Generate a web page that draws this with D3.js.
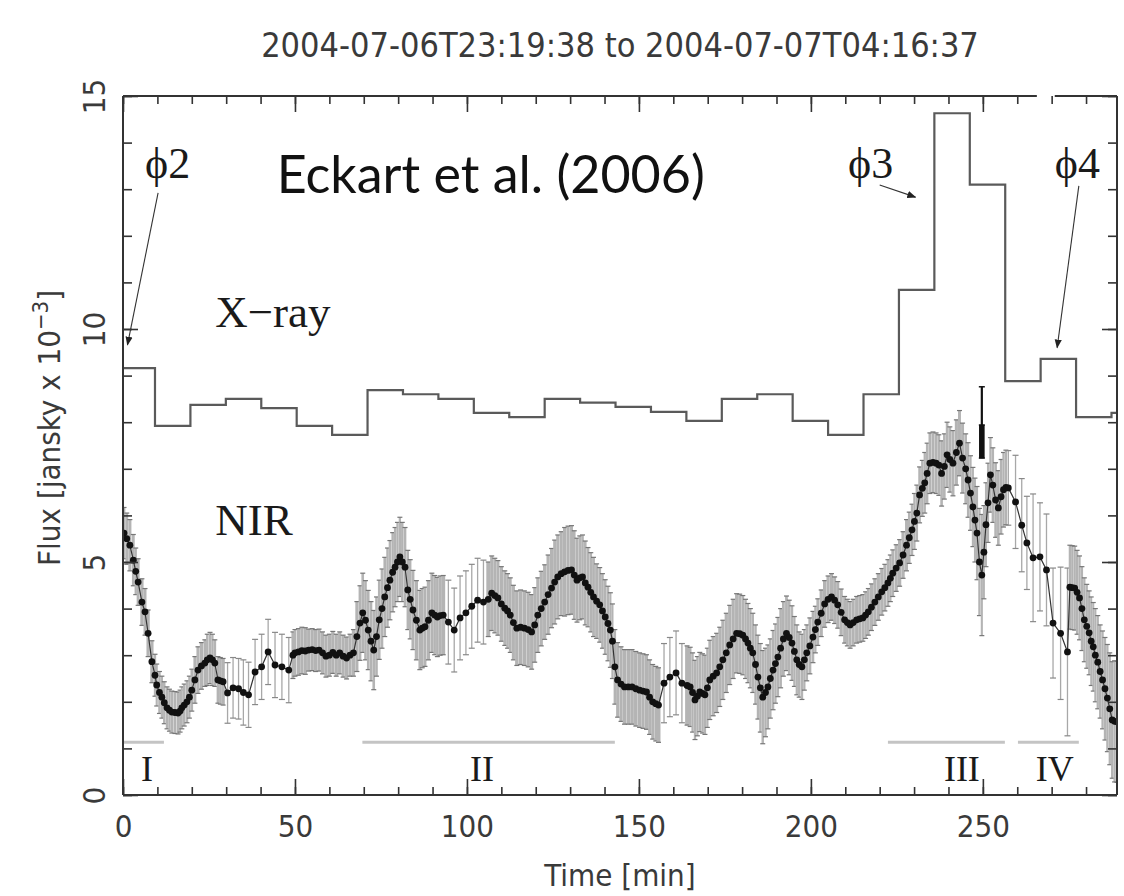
<!DOCTYPE html>
<html><head><meta charset="utf-8">
<script src="https://cdn.jsdelivr.net/npm/d3@7"></script>
<style>body{margin:0;background:#fff}svg{display:block}</style>
</head><body>
<svg id="chart" width="1124" height="896"></svg>
<script>
// ---------------- data ----------------
const titleText = "2004-07-06T23:19:38 to 2004-07-07T04:16:37";
const xLabelText = "Time [min]";
const xTicksMajor = [0, 50, 100, 150, 200, 250];
const xTicksMinor = d3.range(0, 290, 10);
const yTicksMajor = [0, 5, 10, 15];
const yTicksMinor = d3.range(0, 16, 1);

// X-ray binned light curve (bin edges in minutes, flux per bin)
const xrayEdges = [0, 9.3, 19.6, 29.9, 40.2, 50.5, 60.8, 71.1, 81.4, 91.7, 102.0, 112.3, 122.6, 132.9, 143.2,
  153.5, 163.8, 174.1, 184.4, 194.7, 205.0, 215.3, 225.6, 235.9, 246.2, 256.5, 266.8, 277.1, 287.4, 289];
const xrayFlux = [9.16, 7.92, 8.37, 8.5, 8.3, 7.92, 7.73, 8.69, 8.6, 8.5, 8.2, 8.11, 8.5, 8.42, 8.33,
  8.22, 8.03, 8.5, 8.6, 8.03, 7.73, 8.6, 10.84, 14.63, 13.1, 8.88, 9.36, 8.11, 8.2];

// NIR light curve: [time (min), flux, 1-sigma error]
const nirData = [
 [0.3,5.62,0.55],[1.1,5.5,0.55],[2.0,5.36,0.55],[3.0,5.04,0.55],[3.7,4.8,0.5],[4.4,4.57,0.5],[5.5,4.14,0.5],
 [6.4,3.93,0.5],[7.3,3.47,0.5],[8.4,2.86,0.45],[9.3,2.57,0.45],[9.8,2.36,0.45],[10.6,2.2,0.45],[11.3,2.1,0.45],
 [12.0,1.98,0.45],[12.8,1.87,0.45],[13.5,1.82,0.45],[14.2,1.78,0.45],[15.1,1.77,0.45],[16.0,1.76,0.45],
 [16.6,1.8,0.45],[17.1,1.87,0.45],[17.8,1.93,0.45],[18.6,2.0,0.45],[19.3,2.1,0.45],[20.0,2.25,0.45],
 [20.9,2.47,0.5],[21.8,2.68,0.5],[22.8,2.77,0.5],[23.8,2.83,0.5],[24.5,2.9,0.55],[25.3,2.94,0.55],
 [26.0,2.9,0.55],[26.7,2.83,0.5],[27.6,2.47,0.5],[28.3,2.45,0.5],[29.1,2.43,0.5],
 [30.4,2.19,0.65],[32.0,2.3,0.65],[33.6,2.28,0.65],[35.0,2.2,0.7],[36.5,2.15,0.7],[38.4,2.64,0.7],
 [40.3,2.75,0.7],[42.2,3.07,0.7],[44.2,2.79,0.7],[46.2,2.75,0.7],[48.2,2.68,0.7],
 [49.4,3.0,0.5],[50.0,3.05,0.5],[51.0,3.07,0.5],[52.0,3.1,0.5],[53.0,3.09,0.5],[54.0,3.11,0.45],[55.0,3.12,0.45],
 [56.0,3.1,0.45],[57.0,3.11,0.45],[58.0,3.05,0.45],[59.0,2.98,0.45],[60.0,3.0,0.45],[61.0,3.06,0.45],
 [62.0,3.0,0.45],[63.0,3.05,0.45],[64.0,2.98,0.45],[65.0,2.94,0.45],[66.0,3.0,0.45],[67.0,3.05,0.5],
 [68.0,3.4,0.75],[68.9,3.69,0.8],[69.7,3.91,0.85],[70.5,3.75,0.85],[71.3,3.54,0.85],[72.1,3.3,0.85],
 [72.9,3.11,0.85],[73.7,3.4,0.85],[74.5,3.76,0.85],[75.3,4.0,0.85],[76.1,4.25,0.85],[76.9,4.45,0.85],
 [77.6,4.61,0.85],[78.4,4.78,0.85],[79.1,4.89,0.85],[79.8,5.0,0.85],[80.5,5.11,0.85],[81.2,5.0,0.85],
 [82.0,4.89,0.85],[82.8,4.4,0.85],[83.5,4.2,0.85],[84.3,3.97,0.85],[85.3,3.75,0.85],[86.3,3.54,0.85],
 [87.0,3.58,0.85],[87.8,3.61,0.85],[88.8,3.75,0.85],[89.8,3.91,0.85],[90.6,3.86,0.85],[91.4,3.82,0.85],
 [92.2,3.85,0.85],[93.1,3.86,0.85],
 [94.6,3.71,0.9],[96.3,3.54,0.9],[98.0,3.8,0.9],[99.7,3.91,0.9],[101.4,4.05,0.9],[103.1,4.18,0.9],[104.8,4.14,0.9],
 [106.2,4.2,0.8],[107.2,4.33,0.8],[108.1,4.28,0.8],[109.0,4.23,0.8],[110.0,4.1,0.8],[111.0,4.01,0.8],
 [111.8,3.95,0.8],[112.6,3.86,0.8],[113.5,3.7,0.8],[114.5,3.58,0.8],[115.6,3.6,0.8],[116.7,3.58,0.8],
 [117.8,3.55,0.8],[118.8,3.5,0.8],[119.7,3.65,0.8],[120.6,3.86,0.8],[121.6,4.0,0.8],[122.6,4.14,0.8],
 [123.6,4.3,0.85],[124.6,4.44,0.85],[125.5,4.57,0.9],[126.4,4.68,0.9],[127.4,4.75,0.9],[128.4,4.79,0.95],
 [129.4,4.82,0.95],[130.4,4.83,0.95],[131.2,4.72,0.95],[132.0,4.61,0.9],[132.8,4.66,0.9],[133.6,4.68,0.9],
 [134.4,4.55,0.9],[135.2,4.46,0.85],[136.0,4.35,0.85],[136.8,4.25,0.85],[137.7,4.16,0.8],[138.6,4.08,0.8],
 [139.4,3.95,0.8],[140.2,3.82,0.8],[141.0,3.68,0.8],[141.7,3.54,0.8],[142.3,3.3,0.8],[143.0,2.75,0.8],
 [143.8,2.47,0.8],[144.8,2.38,0.8],[145.8,2.32,0.8],[146.9,2.32,0.8],[148.0,2.32,0.8],[149.1,2.28,0.8],
 [150.2,2.25,0.8],[151.2,2.23,0.8],[152.2,2.21,0.8],[153.1,2.1,0.8],[154.0,2.0,0.8],[154.9,1.96,0.8],
 [155.7,1.93,0.8],
 [157.3,2.4,0.85],[159.0,2.53,0.85],[160.8,2.62,0.9],[162.5,2.4,0.85],
 [164.0,2.35,0.85],[164.9,2.32,0.85],[165.6,2.2,0.85],[166.3,2.04,0.85],[167.0,2.12,0.85],[167.7,2.21,0.85],
 [168.5,2.18,0.85],[169.2,2.15,0.85],[169.9,2.3,0.85],[170.6,2.47,0.85],[171.6,2.55,0.85],[172.6,2.62,0.85],
 [173.5,2.75,0.85],[174.4,2.9,0.85],[175.4,3.05,0.85],[176.4,3.22,0.85],[177.4,3.35,0.85],[178.4,3.47,0.85],
 [179.3,3.46,0.85],[180.2,3.43,0.85],[181.0,3.35,0.85],[181.7,3.26,0.85],[182.4,3.15,0.85],[183.1,3.05,0.85],
 [183.9,2.8,0.85],[184.6,2.53,0.9],[185.3,2.3,0.95],[186.0,2.1,1.0],[186.8,2.2,0.95],[187.5,2.32,0.9],
 [188.2,2.5,0.85],[189.0,2.68,0.85],[189.7,2.82,0.85],[190.4,2.96,0.85],[191.2,3.15,0.85],[192.0,3.35,0.8],
 [192.9,3.47,0.8],[193.7,3.38,0.8],[194.5,3.26,0.8],[195.2,3.08,0.75],[195.9,2.9,0.75],[196.6,2.8,0.7],
 [197.4,2.75,0.7],[198.1,2.9,0.65],[198.8,3.05,0.6],[199.7,3.2,0.6],[200.6,3.39,0.55],[201.3,3.55,0.5],
 [202.0,3.71,0.5],[203.0,3.9,0.5],[204.0,4.1,0.5],[205.0,4.2,0.5],[206.0,4.25,0.5],[206.9,4.18,0.5],
 [207.8,4.08,0.5],[208.8,3.92,0.5],[209.8,3.76,0.5],[210.6,3.7,0.5],[211.4,3.65,0.5],[212.3,3.7,0.5],
 [213.3,3.76,0.5],[214.2,3.78,0.5],[215.1,3.8,0.5],[215.9,3.86,0.5],[216.7,3.93,0.5],[217.6,4.03,0.5],
 [218.6,4.14,0.5],[219.6,4.25,0.5],[220.6,4.36,0.5],[221.5,4.45,0.5],[222.4,4.55,0.5],[223.1,4.65,0.5],
 [223.8,4.76,0.5],[224.8,4.87,0.5],[225.8,4.98,0.5],[226.8,5.15,0.5],[227.8,5.36,0.55],[228.6,5.52,0.55],
 [229.4,5.69,0.55],[230.1,5.87,0.6],[230.8,6.05,0.6],[231.6,6.44,0.6],[232.4,6.58,0.6],[233.1,6.7,0.65],
 [233.8,6.9,0.65],[234.6,7.12,0.65],[235.5,7.14,0.65],[236.4,7.12,0.65],[237.2,7.08,0.65],[238.0,6.9,0.7],
 [238.8,7.05,0.7],[239.6,7.3,0.7],[240.4,7.2,0.7],[241.3,7.12,0.7],[242.3,7.35,0.7],[243.2,7.55,0.7],
 [244.1,7.23,0.75],[245.0,7.0,0.75],[245.7,6.76,0.8],[246.4,6.48,0.8],[247.1,6.18,0.85],[247.7,5.9,0.9],
 [248.3,5.62,1.0],[249.0,5.0,1.15],[249.7,4.72,1.3],[250.3,5.21,1.0],[250.9,5.8,0.9],[251.5,6.27,0.85],
 [252.2,6.87,0.8],[252.9,6.65,0.8],[253.7,6.33,0.8],[254.5,6.16,0.8],[255.3,6.4,0.8],[256.0,6.55,0.8],
 [256.7,6.6,0.8],[257.4,6.59,0.8],
 [259.5,6.29,1.0],[261.3,5.79,1.0],[262.8,5.41,1.0],[264.6,5.09,1.37],[266.6,5.11,1.16],[268.5,4.83,1.2],
 [270.4,3.69,1.18],[272.6,3.47,1.42],[274.6,3.07,1.8],
 [275.3,4.46,0.9],[276.0,4.45,0.9],[276.7,4.44,0.9],[277.4,4.35,0.9],[278.1,4.23,0.9],[278.8,4.0,0.9],
 [279.5,3.76,0.9],[280.2,3.62,0.9],[280.9,3.48,0.9],[281.5,3.3,0.95],[282.1,3.18,0.95],[282.7,3.0,1.0],
 [283.4,2.85,1.0],[284.1,2.65,1.0],[284.8,2.47,1.05],[285.5,2.28,1.1],[286.2,2.08,1.15],[286.9,1.85,1.2],
 [287.6,1.61,1.25],[288.3,1.58,1.3],[289.0,1.57,1.3]
];
// single highlighted (black) error bar near the flare peak
const blackBarTime = 249.7;
const blackBarRange = [7.23, 8.76];
const blackBarCore = [7.23, 7.94];

// flare phases
const phaseNames = ["I", "II", "III", "IV"];
const phaseStart = [0, 69.6, 222.4, 260.2];
const phaseEnd = [11.9, 143.0, 256.4, 277.9];
const phaseLevel = 1.13;
const phaseLabelTime = [7.0, 104.4, 243.9, 270.9];

// ---------------- drawing ----------------
const svg = d3.select("#chart");
const W = 1124, H = 896;
const x = d3.scaleLinear().domain([0, 289]).range([123, 1117]);
const y = d3.scaleLinear().domain([0, 15]).range([795, 96]);

const sansAxis = "'DejaVu Sans Condensed','Liberation Sans Narrow','DejaVu Sans',sans-serif";
const serif = "'Liberation Serif','Times New Roman','DejaVu Serif',serif";
const axisFill = "#3a3a3a";

svg.append("rect").attr("width", W).attr("height", H).attr("fill", "#fff");

// title (centred over the plot box)
svg.append("text").attr("x", (x(0) + x(289)) / 2).attr("y", 57).attr("text-anchor", "middle")
  .attr("font-family", sansAxis).attr("font-size", 34).attr("fill", axisFill).text(titleText);

const defs = svg.append("defs");
defs.append("clipPath").attr("id", "plotclip").append("rect")
  .attr("x", x(0)).attr("y", y(15)).attr("width", x(289) - x(0)).attr("height", y(0) - y(15));
defs.append("marker").attr("id", "arrow").attr("viewBox", "0 0 10 10").attr("refX", 9).attr("refY", 5)
  .attr("markerWidth", 9).attr("markerHeight", 9).attr("markerUnits", "userSpaceOnUse").attr("orient", "auto")
  .append("path").attr("d", "M0,1 L10,5 L0,9 Z").attr("fill", "#222");

const plot = svg.append("g").attr("clip-path", "url(#plotclip)");

// phase bars and labels
phaseNames.forEach((n, i) => {
  plot.append("line").attr("x1", x(phaseStart[i])).attr("x2", x(phaseEnd[i]))
    .attr("y1", y(phaseLevel)).attr("y2", y(phaseLevel))
    .attr("stroke", "#c4c4c4").attr("stroke-width", 3);
  svg.append("text").attr("x", x(phaseLabelTime[i])).attr("y", 781).attr("text-anchor", "middle")
    .attr("font-family", serif).attr("font-size", 36).attr("fill", "#1a1a1a").text(n);
});

// NIR error bars
const gapAvg = nirData.map((d, i) => {
  const gp = i > 0 ? d[0] - nirData[i - 1][0] : nirData[i + 1][0] - d[0];
  const gn = i < nirData.length - 1 ? nirData[i + 1][0] - d[0] : gp;
  return (gp + gn) / 2;
});
const errG = plot.append("g");
nirData.forEach((d, i) => {
  const cx = x(d[0]), y1 = y(d[1] + d[2]), y2 = y(d[1] - d[2]);
  const dense = gapAvg[i] < 1.3;
  if (dense) {
    const w = Math.max(2, (x(gapAvg[i]) - x(0)) * 0.95);
    errG.append("rect").attr("x", cx - w / 2).attr("width", w).attr("y", y1).attr("height", y2 - y1)
      .attr("fill", "#b4b4b4");
    [y1, y2].forEach(yy => errG.append("line").attr("x1", cx - 2.5).attr("x2", cx + 2.5)
      .attr("y1", yy).attr("y2", yy).attr("stroke", "#777").attr("stroke-width", 1.2));
  } else {
    errG.append("line").attr("x1", cx).attr("x2", cx).attr("y1", y1).attr("y2", y2)
      .attr("stroke", "#a8a8a8").attr("stroke-width", 1.3);
    [y1, y2].forEach(yy => errG.append("line").attr("x1", cx - 3).attr("x2", cx + 3)
      .attr("y1", yy).attr("y2", yy).attr("stroke", "#888").attr("stroke-width", 1.2));
  }
});

// NIR connecting line and points
plot.append("path").datum(nirData)
  .attr("d", d3.line().x(d => x(d[0])).y(d => y(d[1])))
  .attr("fill", "none").attr("stroke", "#333").attr("stroke-width", 1.2);
plot.append("g").selectAll("circle").data(nirData).join("circle")
  .attr("cx", d => x(d[0])).attr("cy", d => y(d[1])).attr("r", 3.4).attr("fill", "#111");

// black error bar
plot.append("line").attr("x1", x(blackBarTime)).attr("x2", x(blackBarTime))
  .attr("y1", y(blackBarRange[0])).attr("y2", y(blackBarRange[1])).attr("stroke", "#111").attr("stroke-width", 2.2);
plot.append("rect").attr("x", x(blackBarTime) - 2.8).attr("width", 5.6)
  .attr("y", y(blackBarCore[1])).attr("height", y(blackBarCore[0]) - y(blackBarCore[1])).attr("fill", "#111");
[blackBarRange[0], blackBarRange[1], blackBarCore[1]].forEach(v =>
  plot.append("line").attr("x1", x(blackBarTime) - 3).attr("x2", x(blackBarTime) + 3)
    .attr("y1", y(v)).attr("y2", y(v)).attr("stroke", "#111").attr("stroke-width", 1.5));

// X-ray step curve
const xrayPts = xrayFlux.map((f, i) => [xrayEdges[i], f]);
xrayPts.push([xrayEdges[xrayEdges.length - 1], xrayFlux[xrayFlux.length - 1]]);
plot.append("path").datum(xrayPts)
  .attr("d", d3.line().x(d => x(d[0])).y(d => y(d[1])).curve(d3.curveStepAfter))
  .attr("fill", "none").attr("stroke", "#5a5a5a").attr("stroke-width", 2.2);

// axes (ticks inward on all four sides)
function styleAxis(s) {
  s.select(".domain").remove();
  s.selectAll(".tick line").attr("stroke", "#333").attr("stroke-width", 1.6);
}
svg.append("g").attr("transform", `translate(0,${y(0)})`)
  .call(d3.axisBottom(x).tickValues(xTicksMinor).tickSize(-8).tickFormat("")).call(styleAxis);
const xAx = svg.append("g").attr("transform", `translate(0,${y(0)})`)
  .call(d3.axisBottom(x).tickValues(xTicksMajor).tickSize(-16).tickPadding(20).tickFormat(d3.format("d")))
  .call(styleAxis);
xAx.selectAll("text").attr("font-family", sansAxis).attr("font-size", 31).attr("fill", axisFill);

svg.append("g").attr("transform", `translate(0,${y(15)})`)
  .call(d3.axisTop(x).tickValues(xTicksMinor).tickSize(-8).tickFormat("")).call(styleAxis);
svg.append("g").attr("transform", `translate(0,${y(15)})`)
  .call(d3.axisTop(x).tickValues(xTicksMajor).tickSize(-16).tickFormat("")).call(styleAxis);

svg.append("g").attr("transform", `translate(${x(0)},0)`)
  .call(d3.axisLeft(y).tickValues(yTicksMinor).tickSize(-9).tickFormat("")).call(styleAxis);
const yAx = svg.append("g").attr("transform", `translate(${x(0)},0)`)
  .call(d3.axisLeft(y).tickValues(yTicksMajor).tickSize(-15).tickFormat(d3.format("d"))).call(styleAxis);
yAx.selectAll("text").attr("font-family", sansAxis).attr("font-size", 31).attr("fill", axisFill)
  .attr("x", 0).attr("y", -18).attr("dy", 0).attr("text-anchor", "middle").attr("transform", "rotate(-90)");

svg.append("g").attr("transform", `translate(${x(289)},0)`)
  .call(d3.axisRight(y).tickValues(yTicksMinor).tickSize(-9).tickFormat("")).call(styleAxis);
svg.append("g").attr("transform", `translate(${x(289)},0)`)
  .call(d3.axisRight(y).tickValues(yTicksMajor).tickSize(-15).tickFormat("")).call(styleAxis);

// frame (top border has a small gap in the original)
const frame = svg.append("g").attr("stroke", "#333").attr("stroke-width", 2).attr("fill", "none");
frame.append("line").attr("x1", x(0)).attr("x2", x(0)).attr("y1", y(0)).attr("y2", y(15));
frame.append("line").attr("x1", x(289)).attr("x2", x(289)).attr("y1", y(0)).attr("y2", y(15));
frame.append("line").attr("x1", x(0)).attr("x2", x(289)).attr("y1", y(0)).attr("y2", y(0));
frame.append("line").attr("x1", x(0)).attr("x2", x(265.7)).attr("y1", y(15)).attr("y2", y(15));
frame.append("line").attr("x1", x(270.9)).attr("x2", x(289)).attr("y1", y(15)).attr("y2", y(15));

// axis titles
svg.append("text").attr("x", (x(0) + x(289)) / 2).attr("y", 886).attr("text-anchor", "middle")
  .attr("font-family", sansAxis).attr("font-size", 31).attr("fill", axisFill).text(xLabelText);
const yl = svg.append("text").attr("transform", `translate(60,428) rotate(-90)`).attr("text-anchor", "middle")
  .attr("font-family", sansAxis).attr("font-size", 31).attr("fill", axisFill);
yl.append("tspan").text("Flux [jansky x 10");
yl.append("tspan").attr("dy", -12).attr("font-size", 22).text("−3");
yl.append("tspan").attr("dy", 12).text("]");

// annotations
const ann = svg.append("g").attr("font-family", serif).attr("fill", "#1a1a1a");
ann.append("text").attr("x", x(6.4)).attr("y", 178).attr("font-size", 44).text("ϕ2");
ann.append("text").attr("x", x(210.8)).attr("y", 178).attr("font-size", 44).text("ϕ3");
ann.append("text").attr("x", x(270.9)).attr("y", 178).attr("font-size", 44).text("ϕ4");
ann.append("text").attr("x", x(26.8)).attr("y", 327).attr("font-size", 45).text("X−ray");
ann.append("text").attr("x", x(26.8)).attr("y", 535).attr("font-size", 45).text("NIR");
svg.append("text").attr("x", x(44.7)).attr("y", 193).attr("font-family", "Lato,'Noto Sans',sans-serif")
  .attr("font-size", 52).attr("fill", "#111").text("Eckart et al. (2006)");

const arrows = svg.append("g").attr("stroke", "#333").attr("stroke-width", 1.1).attr("fill", "none");
[[[10.2, 12.92], [1.3, 9.66]], [[220.0, 13.09], [230.4, 12.83]], [[277.9, 13.07], [271.6, 9.6]]]
  .forEach(([a, b]) => arrows.append("line").attr("x1", x(a[0])).attr("y1", y(a[1]))
    .attr("x2", x(b[0])).attr("y2", y(b[1])).attr("marker-end", "url(#arrow)"));
</script>
</body></html>
